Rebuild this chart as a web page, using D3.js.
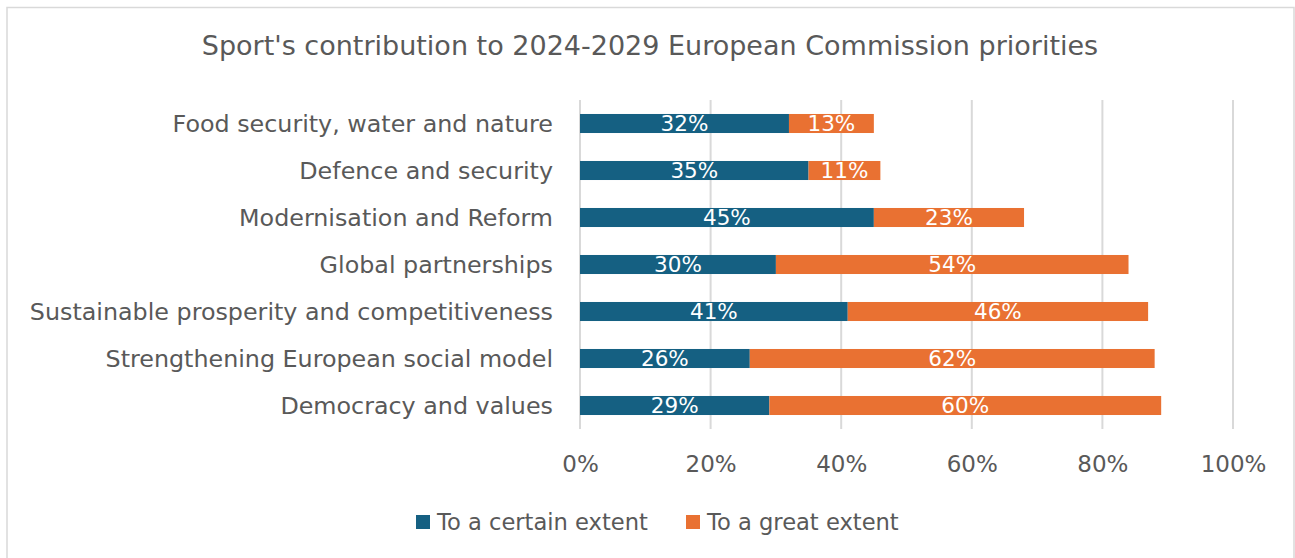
<!DOCTYPE html>
<html>
<head>
<meta charset="utf-8">
<script src="https://cdn.jsdelivr.net/npm/d3@7"></script>
<style>
  html, body { margin: 0; padding: 0; background: #fff; }
  svg { display: block; font-family: "DejaVu Sans", "Open Sans", Arial, sans-serif; }
</style>
</head>
<body>
<svg id="chart" width="1295" height="558"></svg>
<script>
// Survey results: share of respondents per priority area
const categories = [
  "Food security, water and nature",
  "Defence and security",
  "Modernisation and Reform",
  "Global partnerships",
  "Sustainable prosperity and competitiveness",
  "Strengthening European social model",
  "Democracy and values"
];
const certainExtent = [32, 35, 45, 30, 41, 26, 29];
const greatExtent   = [13, 11, 23, 54, 46, 62, 60];
const seriesNames = ["To a certain extent", "To a great extent"];
const seriesColors = ["#156082", "#E97132"];
const xTicks = [0, 20, 40, 60, 80, 100];
const title = "Sport's contribution to 2024-2029 European Commission priorities";

const svg = d3.select("#chart");
const textColor = "#595959";
const font = "\"DejaVu Sans\", \"Open Sans\", Arial, sans-serif";

// chart area frame
svg.append("rect")
  .attr("x", 7).attr("y", 7.5)
  .attr("width", 1287).attr("height", 560)
  .attr("fill", "#fff").attr("stroke", "#d9d9d9").attr("stroke-width", 1.5);

const plot = { left: 580, right: 1233, top: 100, bottom: 429 };

const x = d3.scaleLinear().domain([0, 100]).range([plot.left, plot.right]);
const y = d3.scaleBand().domain(categories).range([plot.top, plot.bottom]).paddingInner(0.595).paddingOuter(0.2975);

// title
svg.append("text")
  .attr("x", 650).attr("y", 55)
  .attr("text-anchor", "middle")
  .attr("font-size", 27)
  .attr("fill", textColor)
  .text(title);

// vertical gridlines
svg.append("g").selectAll("line").data(xTicks).join("line")
  .attr("x1", d => x(d)).attr("x2", d => x(d))
  .attr("y1", plot.top).attr("y2", plot.bottom)
  .attr("stroke", "#d9d9d9").attr("stroke-width", 2);

// x axis labels
const xAxis = d3.axisBottom(x).tickValues(xTicks).tickFormat(d => d + "%").tickSize(0).tickPadding(0);
const gx = svg.append("g").attr("transform", `translate(0, 472)`).call(xAxis);
gx.select(".domain").remove();
gx.selectAll("text")
  .attr("dy", 0)
  .attr("font-size", 23)
  .attr("font-family", font)
  .attr("fill", textColor);

// category axis labels
const yAxis = d3.axisLeft(y).tickSize(0).tickPadding(0);
const gy = svg.append("g").attr("transform", `translate(553, 0)`).call(yAxis);
gy.select(".domain").remove();
gy.selectAll("text")
  .attr("dy", "0.36em")
  .attr("font-size", 23.8)
  .attr("font-family", font)
  .attr("fill", textColor);

// stacked bars
const rows = categories.map((c, i) => ({ cat: c, certain: certainExtent[i], great: greatExtent[i] }));
const stack = d3.stack().keys(["certain", "great"])(rows);

const layers = svg.append("g").selectAll("g").data(stack).join("g")
  .attr("fill", (d, i) => seriesColors[i]);

layers.selectAll("rect").data(d => d).join("rect")
  .attr("x", d => x(d[0]))
  .attr("y", d => y(d.data.cat))
  .attr("width", d => x(d[1]) - x(d[0]))
  .attr("height", y.bandwidth());

// value labels inside segments
const labels = svg.append("g").selectAll("g").data(stack).join("g");
labels.selectAll("text").data(d => d).join("text")
  .attr("x", d => (x(d[0]) + x(d[1])) / 2)
  .attr("y", d => y(d.data.cat) + y.bandwidth() / 2)
  .attr("dy", "0.36em")
  .attr("text-anchor", "middle")
  .attr("font-size", 21.5)
  .attr("fill", "#fff")
  .text(d => (d[1] - d[0]) + "%");

// legend
const legend = svg.append("g");
const legendX = [416, 686];
seriesNames.forEach((name, i) => {
  const g = legend.append("g").attr("transform", `translate(${legendX[i]}, 515)`);
  g.append("rect").attr("width", 14).attr("height", 14).attr("fill", seriesColors[i]);
  g.append("text").attr("x", 21).attr("y", 7).attr("dy", "0.36em")
    .attr("font-size", 22.6).attr("fill", textColor).text(name);
});
</script>
</body>
</html>
